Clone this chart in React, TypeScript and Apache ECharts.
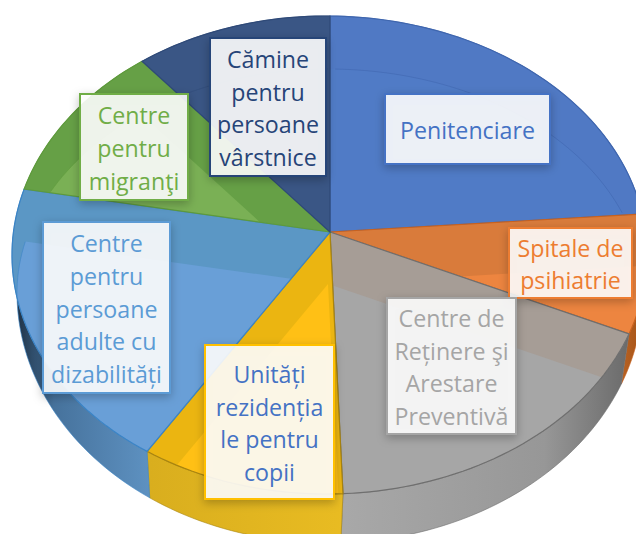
import React, { useEffect, useRef } from "react";
import * as echarts from "echarts";

const categories = [
  "Penitenciare",
  "Spitale de psihiatrie",
  "Centre de Reținere şi Arestare Preventivă",
  "Unități rezidențiale pentru copii",
  "Centre pentru persoane adulte cu dizabilități",
  "Centre pentru migranţi",
  "Cămine pentru persoane vârstnice",
];
const shares = [23.8, 7.9, 17.7, 9.6, 18.9, 11.0, 11.1];
const labelLines = [
  "Penitenciare",
  "Spitale de\npsihiatrie",
  "Centre de\nReținere şi\nArestare\nPreventivă",
  "Unități\nrezidenția\nle pentru\ncopii",
  "Centre\npentru\npersoane\nadulte cu\ndizabilități",
  "Centre\npentru\nmigranţi",
  "Cămine\npentru\npersoane\nvârstnice",
];

const bandColors = ["#5079C4", "#D97B3B", "#A69D96", "#EBB511", "#5B97C5", "#66A046", "#3A5685"];
const innerColors = ["#507BC6", "#ED8540", "#A6A6A6", "#FFC015", "#699FD7", "#7AB055", "#3A5685"];
const edgeColors = ["#3F66AE", "#C9621F", "#6F6F6F", "#A8840F", "#3B84C6", "#5E9A3C", "#2F4A78"];
const labelBorders = ["#4472C4", "#ED7D31", "#A5A5A5", "#FFC000", "#5B9BD5", "#70AD47", "#264478"];
const labelTextColors = ["#4472C4", "#ED7D31", "#A5A5A5", "#4472C4", "#5B9BD5", "#70AD47", "#264478"];
const wallStops: [number, number, [number, string][]][] = [
  [400, 640, [[0, "#3F66AE"], [1, "#3F66AE"]]],
  [600, 640, [[0, "#C9702F"], [1, "#A85518"]]],
  [345, 630, [[0, "#A8A8A8"], [0.7, "#979797"], [1, "#6A6A6A"]]],
  [150, 350, [[0, "#D9AE1E"], [1, "#E9BC22"]]],
  [20, 155, [[0, "#22384E"], [0.25, "#46729C"], [1, "#5F93C3"]]],
  [20, 140, [[0, "#5E9A3C"], [1, "#5E9A3C"]]],
  [140, 330, [[0, "#2F4A78"], [1, "#2F4A78"]]],
];
const labelBoxes = [
  [385, 94, 165, 70],
  [509, 228, 123, 70],
  [387, 298, 129, 136],
  [205, 345, 129, 154],
  [43, 222, 127, 171],
  [80, 94, 108, 106],
  [210, 38, 116, 138],
];

const DIR = { rx: 314, ry: 239 };
const TOP = { ax: 330, ay: 232, cx: 326, cy: 255, rxL: 314, rxR: 321, ryU: 239, ryD: 239 };
const BOTTOM = { ax: 328, ay: 284, cx: 328, cy: 293, rxL: 311, rxR: 315, ryU: 224, ryD: 250 };
type E = typeof TOP;
type P = [number, number];

const total = shares.reduce((a, b) => a + b, 0);
const startShares = shares.map((_, i) => shares.slice(0, i).reduce((a, b) => a + b, 0));

function rimPoint(e: E, deg: number): P {
  const t = (deg * Math.PI) / 180;
  const ddx = Math.sin(t) * DIR.rx;
  const ddy = -Math.cos(t) * DIR.ry;
  const rx = ddx >= 0 ? e.rxR : e.rxL;
  let best: P = [e.ax, e.ay];
  for (const ry of [e.ryD, e.ryU]) {
    const dx = ddx / rx;
    const dy = ddy / ry;
    const ox = (e.ax - e.cx) / rx;
    const oy = (e.ay - e.cy) / ry;
    const a = dx * dx + dy * dy;
    const b = ox * dx + oy * dy;
    const c = ox * ox + oy * oy - 1;
    const s = (-b + Math.sqrt(b * b - a * c)) / a;
    best = [e.ax + ddx * s, e.ay + ddy * s];
    if (ry === e.ryD && best[1] >= e.cy) return best;
  }
  return best;
}
function arc(e: E, from: number, to: number): P[] {
  const n = Math.max(2, Math.ceil((to - from) / 1.5));
  const out: P[] = [];
  for (let i = 0; i <= n; i++) out.push(rimPoint(e, from + ((to - from) * i) / n));
  return out;
}
function clipConvex(subject: P[], clip: P[]): P[] {
  let area = 0;
  clip.forEach((p, i) => {
    const q = clip[(i + 1) % clip.length];
    area += p[0] * q[1] - q[0] * p[1];
  });
  const sign = area > 0 ? 1 : -1;
  let out = subject;
  for (let i = 0; i < clip.length && out.length; i++) {
    const a = clip[i];
    const b = clip[(i + 1) % clip.length];
    const side = (p: P) => sign * ((b[0] - a[0]) * (p[1] - a[1]) - (b[1] - a[1]) * (p[0] - a[0]));
    const input = out;
    out = [];
    input.forEach((p, j) => {
      const q = input[(j + 1) % input.length];
      const sp = side(p);
      const sq = side(q);
      if (sp >= 0) out.push(p);
      if (sp >= 0 !== sq >= 0) {
        const k = sp / (sp - sq);
        out.push([p[0] + (q[0] - p[0]) * k, p[1] + (q[1] - p[1]) * k]);
      }
    });
  }
  return out;
}

const sliceData = shares.map((v, i) => ({ name: categories[i], value: [startShares[i], v] }));
function range(api: any): [number, number] {
  const s = api.value(0);
  const v = api.value(1);
  return [(s / total) * 360, ((s + v) / total) * 360];
}

function renderWall(params: any, api: any) {
  const i = params.dataIndex;
  const [a, b] = range(api);
  const top = arc(TOP, a, b);
  const bot = arc(BOTTOM, a, b).reverse();
  const [x, x2, stops] = wallStops[i];
  return {
    type: "polygon",
    shape: { points: [...top, ...bot] },
    style: {
      fill: {
        type: "linear",
        global: true,
        x,
        y: 0,
        x2,
        y2: 0,
        colorStops: stops.map(([offset, color]) => ({ offset, color })),
      },
      stroke: edgeColors[i],
      lineWidth: 0.6,
    },
  };
}

function renderTop(params: any, api: any) {
  const i = params.dataIndex;
  const [a, b] = range(api);
  const topPoly: P[] = [[TOP.ax, TOP.ay], ...arc(TOP, a, b)];
  const botArc = arc(BOTTOM, a, b);
  const botPoly: P[] = [[BOTTOM.ax, BOTTOM.ay], ...botArc];
  const inner = clipConvex(topPoly, botPoly);
  return {
    type: "group",
    children: [
      { type: "polygon", shape: { points: topPoly }, style: { fill: bandColors[i] } },
      { type: "polygon", shape: { points: inner }, style: { fill: innerColors[i] } },
      {
        type: "polygon",
        shape: { points: topPoly },
        style: { fill: "none", stroke: edgeColors[i], lineWidth: 1.2 },
      },
    ],
  };
}

function renderRing(params: any, api: any) {
  const i = params.dataIndex;
  const [a, b] = range(api);
  const topPoly: P[] = [[TOP.ax, TOP.ay], ...arc(TOP, a, b)];
  const inside = arc(BOTTOM, a, b).filter((p) => clipConvex([p, p, p], topPoly).length > 0);
  return {
    type: "polyline",
    shape: { points: inside },
    style: { stroke: edgeColors[i], lineWidth: 1, opacity: 0.55, fill: "none" },
  };
}

function renderLabel(params: any) {
  const i = params.dataIndex;
  const [x, y, w, h] = labelBoxes[i];
  return {
    type: "group",
    children: [
      {
        type: "rect",
        shape: { x, y, width: w, height: h },
        style: {
          fill: "rgba(255,255,255,0.88)",
          stroke: labelBorders[i],
          lineWidth: 2,
          shadowBlur: 10,
          shadowColor: "rgba(0,0,0,0.28)",
          shadowOffsetY: 3,
        },
      },
      {
        type: "text",
        style: {
          x: x + w / 2,
          y: y + h / 2 + 1,
          text: labelLines[i],
          fill: labelTextColors[i],
          font: '23.2px "Open Sans"',
          lineHeight: 32.7,
          align: "center",
          verticalAlign: "middle",
        },
      },
    ],
  };
}

export default function App() {
  const ref = useRef<HTMLDivElement>(null);
  useEffect(() => {
    document.body.style.margin = "0";
    const chart = echarts.init(ref.current!, undefined, { renderer: "svg" });
    chart.setOption({
      animation: false,
      backgroundColor: "#ffffff",
      series: [
        { type: "custom", coordinateSystem: "none", data: sliceData, renderItem: renderWall, z: 1, silent: true },
        { type: "custom", coordinateSystem: "none", data: sliceData, renderItem: renderTop, z: 2, silent: true },
        { type: "custom", coordinateSystem: "none", data: sliceData, renderItem: renderRing, z: 3, silent: true },
        { type: "custom", coordinateSystem: "none", data: sliceData, renderItem: renderLabel, z: 4, silent: true },
      ],
    });
    return () => chart.dispose();
  }, []);
  return <div ref={ref} style={{ width: 636, height: 534 }} />;
}
